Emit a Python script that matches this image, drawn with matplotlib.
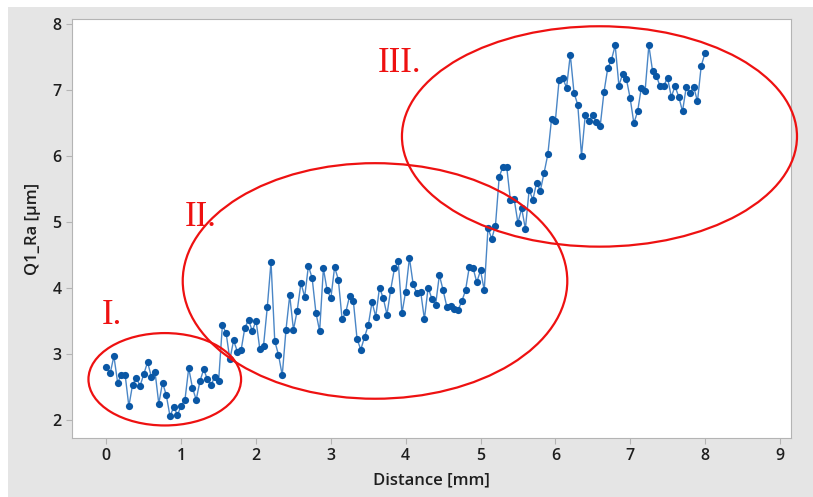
import matplotlib
matplotlib.use("Agg")
import matplotlib.pyplot as plt
from matplotlib.patches import Ellipse, Rectangle
import numpy as np

# roughness profile, one reading every 0.05 mm from 0 to 8 mm
distance = np.round(np.arange(161) * 0.05, 2)
ra = [
    2.80, 2.71, 2.97, 2.57, 2.69, 2.69, 2.21, 2.54, 2.64, 2.52,
    2.70, 2.88, 2.66, 2.73, 2.25, 2.57, 2.38, 2.06, 2.20, 2.08,
    2.22, 2.31, 2.79, 2.49, 2.31, 2.59, 2.77, 2.62, 2.54, 2.66,
    2.60, 3.44, 3.32, 2.92, 3.21, 3.04, 3.06, 3.40, 3.52, 3.35,
    3.51, 3.08, 3.13, 3.71, 4.40, 3.20, 2.99, 2.68, 3.37, 3.89,
    3.37, 3.66, 4.08, 3.87, 4.34, 4.15, 3.63, 3.35, 4.30, 3.97,
    3.85, 4.32, 4.13, 3.53, 3.64, 3.88, 3.81, 3.23, 3.07, 3.26,
    3.44, 3.79, 3.57, 4.01, 3.85, 3.60, 3.98, 4.30, 4.41, 3.62,
    3.95, 4.46, 4.06, 3.92, 3.95, 3.53, 4.01, 3.84, 3.75, 4.20,
    3.97, 3.72, 3.73, 3.69, 3.67, 3.80, 3.97, 4.32, 4.31, 4.09,
    4.27, 3.97, 4.91, 4.75, 4.95, 5.69, 5.84, 5.84, 5.33, 5.35,
    4.99, 5.21, 4.90, 5.49, 5.34, 5.60, 5.48, 5.75, 6.03, 6.57,
    6.53, 7.15, 7.18, 7.04, 7.54, 6.96, 6.78, 6.01, 6.62, 6.54,
    6.62, 6.52, 6.46, 6.97, 7.33, 7.46, 7.68, 7.07, 7.25, 7.17,
    6.88, 6.50, 6.68, 7.04, 6.99, 7.68, 7.29, 7.22, 7.06, 7.07,
    7.19, 6.90, 7.06, 6.90, 6.68, 7.05, 6.96, 7.05, 6.83, 7.37,
    7.56,
]

# annotated zones: label, label anchor, ellipse centre, width, height
zone_labels = ["I.", "II.", "III."]
label_xy = [(-0.06, 3.46), (1.05, 4.95), (3.62, 7.27)]
ellipse_xy = [(0.78, 2.62), (3.59, 4.11), (6.59, 6.30)]
ellipse_w = [2.04, 5.14, 5.28]
ellipse_h = [1.40, 3.57, 3.34]

plt.rcParams['font.family'] = ['Open Sans', 'DejaVu Sans']

fig = plt.figure(figsize=(8.13, 4.97), dpi=100, facecolor='white')
# grey panel behind the chart
fig.patches.append(Rectangle((8 / 813, 0), 1, 1 - 7 / 497, transform=fig.transFigure,
                             facecolor='#e5e5e5', edgecolor='none', zorder=-10))
ax = fig.add_axes([72 / 813, 59 / 497, 719 / 813, 419 / 497])
ax.set_facecolor('white')

ax.plot(distance, ra, color='#4a86c6', lw=1.0, zorder=3)
ax.plot(distance, ra, ls='none', marker='o', ms=5.2, color='#0a57a5',
        markeredgewidth=0, zorder=4)

for lab, (lx, ly), (ex, ey), w, h in zip(zone_labels, label_xy, ellipse_xy, ellipse_w, ellipse_h):
    ax.add_patch(Ellipse((ex, ey), w, h, fill=False, edgecolor='#ee1111', lw=1.6,
                         clip_on=False, zorder=5))
    ax.text(lx, ly, lab, color='#ee1111', fontsize=25, family='Liberation Serif',
            ha='left', va='baseline', zorder=6)

ax.set_xlim(-0.46, 9.15)
ax.set_ylim(1.73, 8.08)
ax.set_xticks(range(0, 10))
ax.set_yticks(range(2, 9))

for s in ax.spines.values():
    s.set_color('#b4b4b4')
ax.tick_params(colors='#b4b4b4', labelcolor='#1e1e1e', length=4, labelsize=11.5)
for t in ax.get_xticklabels() + ax.get_yticklabels():
    t.set_fontweight('semibold')

ax.set_xlabel('Distance [mm]', fontsize=12, fontweight='semibold', color='#1e1e1e', labelpad=6)
ax.set_ylabel('Q1_Ra [µm]', fontsize=12, fontweight='semibold', color='#1e1e1e', labelpad=8)

fig.savefig('out.png', dpi=100, facecolor=fig.get_facecolor())
